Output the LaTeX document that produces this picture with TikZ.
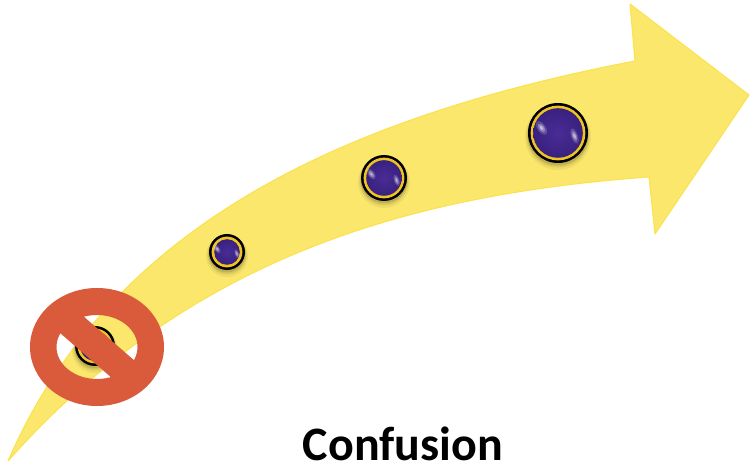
\documentclass[tikz,border=0pt]{standalone}
\usepackage{fontspec}
\setmainfont{Carlito}
\usepackage{xcolor}
\usepackage{tikz}
\definecolor{arrowyellow}{HTML}{FBE76C}
\definecolor{arrowedge}{HTML}{FBE24F}
\definecolor{signred}{HTML}{D95B3C}
\definecolor{ballblue}{HTML}{4A2C96}
\definecolor{balldark}{HTML}{38217F}
\definecolor{ballring}{HTML}{EFC321}
\tikzset{
	arrowbody/.style={fill=arrowyellow, draw=arrowedge, line width=0.6pt, line join=round},
	signpart/.style={fill=signred, draw=none}
}

\begin{document}
\begin{tikzpicture}[x=0.02cm, y=-0.02cm]
	\useasboundingbox (0,0) rectangle (750,465);
	% arrow
	\draw[arrowbody] (8,461) .. controls (100,250) and (300,125) .. (635,61)
		-- (630,4) -- (749,95) -- (655,234) -- (649,177)
		.. controls (400,195) and (185,262) .. (8,461) -- cycle;
	% balls
	\foreach \x/\y/\r/\s in {95/346/20/0.9, 227/252/18/0.8, 384/178/23/1, 558/133/30/1.3} {
		\fill[black, opacity=0.05] (\x,\y+4) circle (\r+3);
		\fill[black, opacity=0.08] (\x,\y+3) circle (\r+1.5);
		\fill[black, opacity=0.12] (\x,\y+2) circle (\r+0.5);
		\fill[black] (\x,\y) circle (\r);
		\fill[ballring] (\x,\y) circle (\r-2.6);
		\shade[inner color=ballblue, outer color=balldark] (\x,\y) circle (\r-5.2);
		\foreach \k/\o in {1/0.18, 0.65/0.3, 0.32/0.45} {
			\fill[white, opacity=\o] (\x-\r*0.55,\y-\r*0.17) ellipse [x radius=3.2*\s*\k, y radius=6*\s*\k, rotate=35];
			\fill[white, opacity=\o] (\x+\r*0.55,\y+\r*0.1) ellipse [x radius=2.6*\s*\k, y radius=6*\s*\k, rotate=20];
		}
	}
	% no sign
	\fill[signpart, even odd rule] (97,347) ellipse [x radius=67, y radius=59] (97,347) ellipse [x radius=40.5, y radius=32];
	\fill[signpart] (52,326) -- (75,309) -- (143,368) -- (120,385) -- cycle;
	% caption
	\node[font=\bfseries\fontsize{27.3}{32}\selectfont, text=black, inner sep=0pt, anchor=base] (caption) at (403,460) {Confusion};
\end{tikzpicture}
\end{document}
